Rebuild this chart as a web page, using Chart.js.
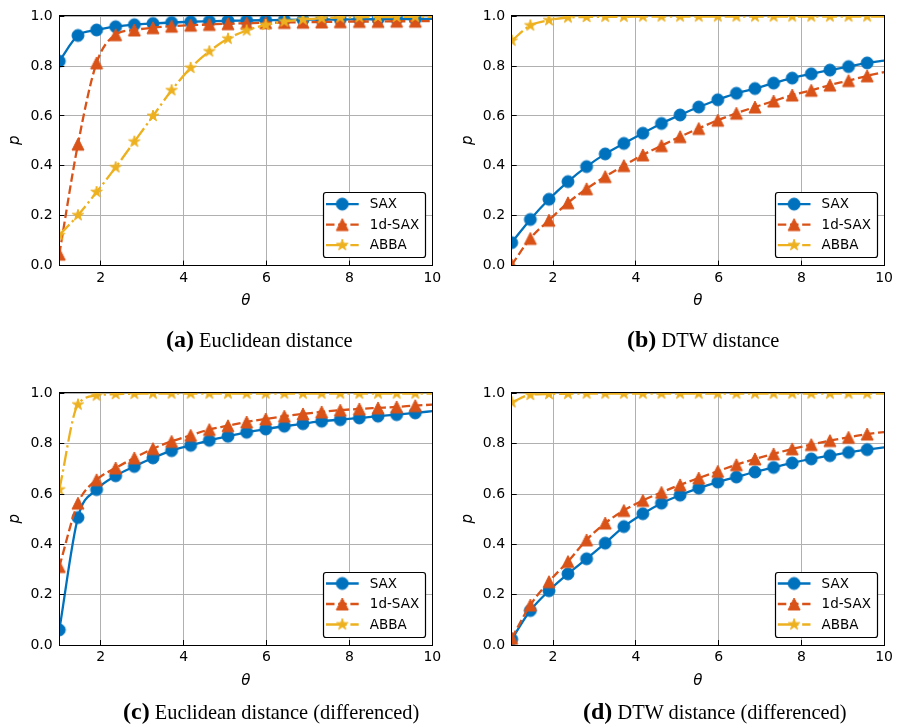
<!DOCTYPE html>
<html>
<head>
<meta charset="utf-8">
<script src="https://cdn.jsdelivr.net/npm/chart.js@4.4.1/dist/chart.umd.min.js"></script>
<style>
  html, body { margin: 0; padding: 0; background: #ffffff; }
  #wrap { position: relative; width: 897px; height: 726px; overflow: hidden; background: #ffffff; }
  #wrap canvas { position: absolute; left: 0; top: 0; }
  .cap { position: absolute; font-family: "Liberation Serif", "Times New Roman", serif; font-size: 20.4px;
         line-height: 36px; color: #000; white-space: nowrap; }
  .cap b { font-size: 24px; line-height: 0; }
</style>
</head>
<body>
<div id="wrap">
  <canvas id="pa" width="897" height="726"></canvas>
  <canvas id="pb" width="897" height="726"></canvas>
  <canvas id="pc" width="897" height="726"></canvas>
  <canvas id="pd" width="897" height="726"></canvas>
  <div class="cap" style="left:166px; top:322px;"><b>(a)</b> Euclidean distance</div>
  <div class="cap" style="left:627px; top:322px;"><b>(b)</b> DTW distance</div>
  <div class="cap" style="left:123px; top:694px;"><b>(c)</b> Euclidean distance (differenced)</div>
  <div class="cap" style="left:583px; top:694px;"><b>(d)</b> DTW distance (differenced)</div>
</div>
<script>
// theta values where the markers sit; the last entry is the right end of each curve
const theta = [1.00, 1.45, 1.90, 2.36, 2.81, 3.26, 3.71, 4.17, 4.62, 5.07, 5.52,
               5.98, 6.43, 6.88, 7.33, 7.78, 8.24, 8.69, 9.14, 9.59, 10.00];
const xTicks = [2, 4, 6, 8, 10];
const yTicks = [0, 0.2, 0.4, 0.6, 0.8, 1.0];
const seriesNames = ['SAX', '1d-SAX', 'ABBA'];

// (a) Euclidean distance
const euclidSAX   = [0.820, 0.923, 0.945, 0.958, 0.966, 0.971, 0.975, 0.978, 0.980, 0.982, 0.983,
                     0.984, 0.985, 0.986, 0.987, 0.987, 0.988, 0.988, 0.989, 0.989, 0.990];
const euclid1dSAX = [0.046, 0.487, 0.813, 0.926, 0.945, 0.954, 0.960, 0.964, 0.967, 0.970, 0.972,
                     0.974, 0.975, 0.976, 0.977, 0.978, 0.979, 0.979, 0.980, 0.980, 0.981];
const euclidABBA  = [0.122, 0.202, 0.295, 0.394, 0.497, 0.600, 0.703, 0.793, 0.859, 0.910, 0.943,
                     0.965, 0.979, 0.987, 0.992, 0.995, 0.996, 0.997, 0.997, 0.998, 0.998];

// (b) DTW distance
const dtwSAX   = [0.092, 0.185, 0.266, 0.337, 0.397, 0.448, 0.490, 0.531, 0.570, 0.604, 0.636,
                  0.665, 0.691, 0.710, 0.732, 0.752, 0.769, 0.784, 0.798, 0.813, 0.822];
const dtw1dSAX = [0.003, 0.109, 0.182, 0.252, 0.308, 0.357, 0.401, 0.444, 0.481, 0.517, 0.550,
                  0.583, 0.611, 0.636, 0.660, 0.684, 0.703, 0.724, 0.742, 0.761, 0.776];
const dtwABBA  = [0.902, 0.963, 0.984, 0.995, 0.997, 0.998, 0.998, 0.999, 0.999, 0.999, 0.999,
                  0.999, 0.999, 0.999, 0.999, 0.999, 0.999, 0.999, 0.999, 0.999, 0.999];

// (c) Euclidean distance, differenced series
const euclidDiffSAX   = [0.060, 0.507, 0.618, 0.673, 0.710, 0.744, 0.773, 0.794, 0.814, 0.830, 0.846,
                         0.859, 0.870, 0.880, 0.890, 0.896, 0.903, 0.910, 0.916, 0.923, 0.930];
const euclidDiff1dSAX = [0.312, 0.564, 0.657, 0.704, 0.744, 0.781, 0.810, 0.834, 0.857, 0.872, 0.887,
                         0.899, 0.910, 0.919, 0.927, 0.934, 0.939, 0.943, 0.947, 0.952, 0.956];
const euclidDiffABBA  = [0.618, 0.956, 0.992, 0.998, 0.999, 1.000, 1.000, 1.000, 1.000, 1.000, 1.000,
                         1.000, 1.000, 1.000, 1.000, 1.000, 1.000, 1.000, 1.000, 1.000, 1.000];

// (d) DTW distance, differenced series
const dtwDiffSAX   = [0.023, 0.137, 0.216, 0.283, 0.343, 0.405, 0.471, 0.522, 0.564, 0.596, 0.624,
                      0.648, 0.668, 0.688, 0.706, 0.724, 0.740, 0.753, 0.766, 0.777, 0.786];
const dtwDiff1dSAX = [0.027, 0.159, 0.252, 0.332, 0.418, 0.485, 0.535, 0.575, 0.607, 0.637, 0.664,
                      0.691, 0.717, 0.740, 0.760, 0.780, 0.797, 0.813, 0.826, 0.839, 0.847];
const dtwDiffABBA  = [0.965, 0.995, 0.998, 0.999, 1.000, 1.000, 1.000, 1.000, 1.000, 1.000, 1.000,
                      1.000, 1.000, 1.000, 1.000, 1.000, 1.000, 1.000, 1.000, 1.000, 1.000];

// ---- styling ----
const COLORS = ['#0072BD', '#D95319', '#EDB120'];
const SHAPES = ['circle', 'triangle', 'star'];
const LW = 2.3;
const DASHES = [[], [3.7 * LW, 1.6 * LW], [6.4 * LW, 1.6 * LW, 1.0 * LW, 1.6 * LW]];
const TICK_FONT = { family: '"DejaVu Sans", sans-serif', size: 14 };
const LABEL_FONT = { family: '"DejaVu Sans", sans-serif', size: 15, style: 'italic' };
const W = 897, H = 726;
const Y_AXIS_W = 53;
const X_AXIS_H = 45;

// filled marker sprite, centred on its own bounding box
function markerSprite(shape, color) {
  const s = 18, c = document.createElement('canvas');
  c.width = s; c.height = s;
  const g = c.getContext('2d');
  g.translate(s / 2, s / 2);
  g.fillStyle = color; g.strokeStyle = color; g.lineWidth = 1; g.lineJoin = 'miter';
  const R = 6.0;
  g.beginPath();
  if (shape === 'circle') {
    g.arc(0, 0, R, 0, Math.PI * 2);
  } else if (shape === 'triangle') {
    g.moveTo(0, -R); g.lineTo(R, R); g.lineTo(-R, R); g.closePath();
  } else {
    for (let i = 0; i < 10; i++) {
      const r = i % 2 ? R * 0.381966 : R;
      const a = i * Math.PI / 5;
      const px = r * Math.sin(a), py = -r * Math.cos(a);
      if (i === 0) g.moveTo(px, py); else g.lineTo(px, py);
    }
    g.closePath();
  }
  g.fill(); g.stroke();
  return c;
}
const SPRITES = SHAPES.map((s, i) => markerSprite(s, COLORS[i]));

function align(px) { return Math.round(px - 0.5) + 0.5; }

// inward ticks, black frame and the boxed legend
const framePlugin = {
  id: 'framePlugin',
  afterDraw(chart) {
    const { ctx, chartArea: a, scales: { x, y } } = chart;
    ctx.save();
    ctx.strokeStyle = '#000'; ctx.lineWidth = 1; ctx.setLineDash([]);
    ctx.beginPath();
    xTicks.forEach(v => { const p = align(x.getPixelForValue(v)); ctx.moveTo(p, a.bottom); ctx.lineTo(p, a.bottom - 5); });
    yTicks.forEach(v => { const p = align(y.getPixelForValue(v)); ctx.moveTo(a.left, p); ctx.lineTo(a.left + 5, p); });
    ctx.stroke();
    const l = align(a.left), r = align(a.right), t = align(a.top), b = align(a.bottom);
    ctx.strokeRect(l, t, r - l, b - t);

    // legend box
    const bw = 102.4, bh = 64.6;
    const bx = a.right - 6.6 - bw, by = a.bottom - 8.2 - bh;
    ctx.beginPath();
    ctx.roundRect(align(bx), align(by), Math.round(bw), Math.round(bh), 2.5);
    ctx.fillStyle = '#ffffff'; ctx.fill();
    ctx.lineWidth = 1.2; ctx.strokeStyle = '#000'; ctx.stroke();
    chart.data.datasets.forEach((ds, i) => {
      const cy = by + 11.3 + i * 20.5;
      ctx.strokeStyle = ds.borderColor; ctx.lineWidth = ds.borderWidth;
      ctx.setLineDash(ds.borderDash || []);
      ctx.beginPath(); ctx.moveTo(bx + 2.7, cy); ctx.lineTo(bx + 35.4, cy); ctx.stroke();
      ctx.setLineDash([]);
      const sp = ds.pointStyle;
      ctx.drawImage(sp, bx + 19 - sp.width / 2, cy - sp.height / 2);
      ctx.fillStyle = '#000'; ctx.font = '13.5px "DejaVu Sans", sans-serif';
      ctx.textBaseline = 'middle'; ctx.textAlign = 'left';
      ctx.fillText(ds.label, bx + 46.5, cy + 0.5);
    });
    ctx.restore();
  }
};

function makePanel(id, box, seriesList) {
  const datasets = seriesList.map((vals, i) => ({
    label: seriesNames[i],
    data: theta.map((t, k) => ({ x: t, y: vals[k] })),
    borderColor: COLORS[i],
    backgroundColor: COLORS[i],
    borderWidth: LW,
    borderDash: DASHES[i],
    pointStyle: SPRITES[i],
    pointRadius: ctx => (ctx.dataIndex < theta.length - 1 ? 6 : 0),
    cubicInterpolationMode: 'monotone',
    tension: 0.4,
    clip: 0,
    order: 3 - i
  }));
  new Chart(document.getElementById(id), {
    type: 'line',
    data: { datasets },
    plugins: [framePlugin],
    options: {
      responsive: false,
      animation: false,
      events: [],
      layout: { padding: { left: box.l - Y_AXIS_W, top: box.t, right: W - box.r, bottom: H - box.b - X_AXIS_H } },
      plugins: { legend: { display: false }, tooltip: { enabled: false } },
      scales: {
        x: {
          type: 'linear', min: 1, max: 10,
          afterBuildTicks: s => { s.ticks = xTicks.map(v => ({ value: v })); },
          afterFit: s => { s.height = X_AXIS_H; },
          grid: { color: '#b0b0b0', lineWidth: 1, drawTicks: false },
          border: { display: false },
          ticks: { padding: 4, color: '#000', font: TICK_FONT, maxRotation: 0, autoSkip: false,
                   callback: v => String(v) },
          title: { display: true, text: 'θ', color: '#000', font: LABEL_FONT, padding: 0 }
        },
        y: {
          type: 'linear', min: 0, max: 1.005,
          afterBuildTicks: s => { s.ticks = yTicks.map(v => ({ value: v })); },
          afterFit: s => { s.width = Y_AXIS_W; },
          grid: { color: '#b0b0b0', lineWidth: 1, drawTicks: false },
          border: { display: false },
          ticks: { padding: 6.6, color: '#000', font: TICK_FONT, autoSkip: false,
                   callback: v => v.toFixed(1) },
          title: { display: true, text: 'p', color: '#000', font: LABEL_FONT, padding: 0 }
        }
      }
    }
  });
}

makePanel('pa', { l: 59.3, t: 13.5, r: 432.3, b: 265.6 }, [euclidSAX, euclid1dSAX, euclidABBA]);
makePanel('pb', { l: 511.7, t: 13.5, r: 885.0, b: 265.6 }, [dtwSAX, dtw1dSAX, dtwABBA]);
makePanel('pc', { l: 59.3, t: 392.3, r: 432.3, b: 645.0 }, [euclidDiffSAX, euclidDiff1dSAX, euclidDiffABBA]);
makePanel('pd', { l: 511.7, t: 392.3, r: 885.0, b: 645.0 }, [dtwDiffSAX, dtwDiff1dSAX, dtwDiffABBA]);
</script>
</body>
</html>
